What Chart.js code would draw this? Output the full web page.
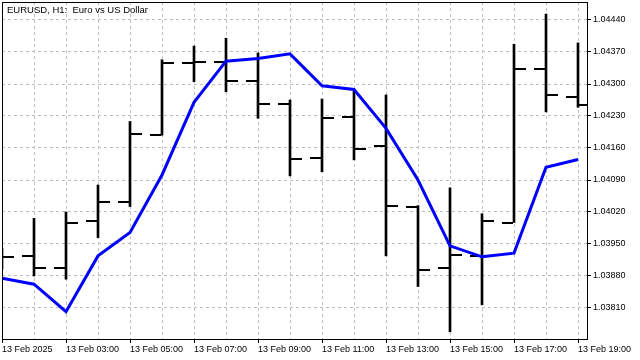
<!DOCTYPE html>
<html>
<head>
<meta charset="utf-8">
<script src="https://cdn.jsdelivr.net/npm/chart.js@4.4.1/dist/chart.umd.min.js"></script>
<style>
  html, body { margin: 0; padding: 0; background: #fff; }
  canvas { display: block; }
</style>
</head>
<body>
<canvas id="chart" width="640" height="360"></canvas>
<script>
// ---- data: EURUSD H1, 13 Feb 2025 01:00 .. 19:00
const hours = ['01:00', '02:00', '03:00', '04:00', '05:00', '06:00', '07:00', '08:00', '09:00', '10:00',
               '11:00', '12:00', '13:00', '14:00', '15:00', '16:00', '17:00', '18:00', '19:00'];

const opens  = [1.03915, 1.03924, 1.03898, 1.04001, 1.04041, 1.04188, 1.04347, 1.04348, 1.04307, 1.04256,
                1.04139, 1.04228, 1.04165, 1.04030, 1.03898, 1.03924, 1.03997, 1.04333, 1.04272];
const highs  = [1.03940, 1.04006, 1.04020, 1.04079, 1.04218, 1.04353, 1.04383, 1.04400, 1.04368, 1.04265,
                1.04267, 1.04285, 1.04276, 1.04034, 1.04073, 1.04016, 1.04387, 1.04453, 1.04390];
const lows   = [1.03895, 1.03880, 1.03873, 1.03964, 1.04032, 1.04188, 1.04305, 1.04283, 1.04225, 1.04099,
                1.04108, 1.04134, 1.03924, 1.03857, 1.03758, 1.03817, 1.03997, 1.04239, 1.04249];
const closes = [1.03922, 1.03898, 1.03997, 1.04041, 1.04191, 1.04347, 1.04348, 1.04307, 1.04256, 1.04136,
                1.04226, 1.04158, 1.04034, 1.03894, 1.03927, 1.04000, 1.04333, 1.04276, 1.04255];
const maValues = [1.03875, 1.03862, 1.03802, 1.03924, 1.03975, 1.04101, 1.04260, 1.04350, 1.04356, 1.04366,
                  1.04296, 1.04288, 1.04203, 1.04090, 1.03946, 1.03922, 1.03930, 1.04118, 1.04135];

// every second hour gets a label
const xTickLabels = ['13 Feb 2025', '13 Feb 03:00', '13 Feb 05:00', '13 Feb 07:00', '13 Feb 09:00',
                     '13 Feb 11:00', '13 Feb 13:00', '13 Feb 15:00', '13 Feb 17:00', '13 Feb 19:00'];
const yTicks = [1.03810, 1.03880, 1.03950, 1.04020, 1.04090, 1.04160, 1.04230, 1.04300, 1.04370, 1.04440];

const yMin = 1.037421875;
const yMax = 1.04479375;
const xMax = 18.28125;

const FONT = { family: 'Liberation Sans, Arial, sans-serif', size: 9 };

// open/close ticks of the OHLC bars
const ohlcTicks = {
    id: 'ohlcTicks',
    beforeDatasetsDraw(chart) {
        const { ctx, chartArea: a, scales: { x, y } } = chart;
        ctx.save();
        ctx.beginPath();
        ctx.rect(a.left, a.top, a.right - a.left, a.bottom - a.top);
        ctx.clip();
        ctx.fillStyle = '#000';
        hours.forEach((h, i) => {
            const px = Math.round(x.getPixelForValue(i));
            const yo = Math.round(y.getPixelForValue(opens[i]));
            const yc = Math.round(y.getPixelForValue(closes[i]));
            ctx.fillRect(px - 12, yo - 1, 11, 2);
            ctx.fillRect(px + 1, yc - 1, 11, 2);
        });
        ctx.restore();
    }
};

// frame + caption
const frame = {
    id: 'frame',
    afterDraw(chart) {
        const { ctx, chartArea: a } = chart;
        ctx.save();
        ctx.strokeStyle = '#000';
        ctx.lineWidth = 1;
        ctx.strokeRect(a.left + 0.5, a.top + 0.5, a.right - a.left, a.bottom - a.top);
        ctx.font = '9.5px "Liberation Sans", Arial, sans-serif';
        ctx.fillStyle = '#000';
        ctx.textBaseline = 'middle';
        ctx.fillText('EURUSD, H1:  Euro vs US Dollar', 7, 10);
        ctx.restore();
    }
};

new Chart(document.getElementById('chart'), {
    type: 'bar',
    data: {
        datasets: [
            {
                type: 'line',
                data: maValues.map((v, i) => ({ x: i, y: v })),
                borderColor: '#0000ff',
                borderWidth: 3,
                pointRadius: 0,
                fill: false,
                tension: 0,
                order: 0
            },
            {
                type: 'bar',
                data: highs.map((h, i) => ({ x: i, y: [lows[i], h] })),
                backgroundColor: '#000',
                borderWidth: 0,
                barThickness: 2,
                grouped: false,
                order: 1
            }
        ]
    },
    options: {
        responsive: false,
        animation: false,
        devicePixelRatio: 1,
        layout: { padding: { left: 2, top: 2, right: 0, bottom: 0 } },
        plugins: {
            legend: { display: false },
            tooltip: { enabled: false },
            title: { display: false }
        },
        scales: {
            x: {
                type: 'linear',
                min: 0,
                max: xMax,
                offset: false,
                afterBuildTicks: s => { s.ticks = hours.map((h, i) => ({ value: i })); },
                afterFit: s => { s.height = 21; s.paddingLeft = 0; s.paddingRight = 0; },
                ticks: {
                    autoSkip: false,
                    maxRotation: 0,
                    minRotation: 0,
                    align: 'start',
                    padding: 1,
                    color: '#000',
                    font: FONT,
                    callback: (v, i) => (i % 2 === 0 ? xTickLabels[i / 2] : '')
                },
                grid: {
                    color: '#c0c0c0',
                    offset: false,
                    drawTicks: true,
                    tickLength: 4,
                    tickColor: c => (c.index % 2 === 0 ? '#000' : 'rgba(0,0,0,0)'),
                    tickBorderDash: []
                },
                border: { display: false, dash: [3, 3] }
            },
            y: {
                type: 'linear',
                position: 'right',
                min: yMin,
                max: yMax,
                afterBuildTicks: s => { s.ticks = yTicks.map(v => ({ value: v })); },
                afterFit: s => { s.width = 53; s.paddingTop = 0; s.paddingBottom = 0; },
                ticks: {
                    padding: 2,
                    color: '#000',
                    font: FONT,
                    callback: v => v.toFixed(5)
                },
                grid: {
                    color: '#c0c0c0',
                    tickLength: 4,
                    tickColor: '#000',
                    tickBorderDash: []
                },
                border: { display: false, dash: [3, 3] }
            }
        }
    },
    plugins: [ohlcTicks, frame]
});
</script>
</body>
</html>
